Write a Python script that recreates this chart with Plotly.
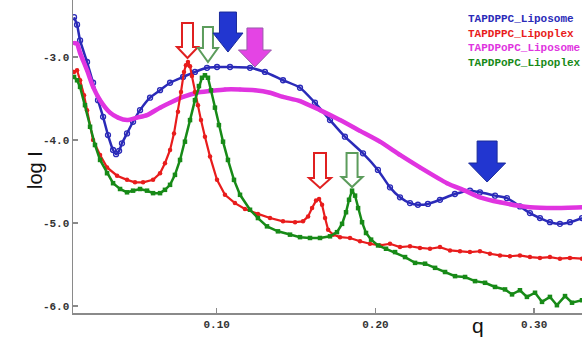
import plotly.graph_objects as go

# ---------------- data ----------------
q_dppc_liposome = [0.0101, 0.0120, 0.0139, 0.0183, 0.0221, 0.0252, 0.0284, 0.0315, 0.0347, 0.0366,
                   0.0385, 0.0403, 0.0435, 0.0473, 0.0517, 0.0580, 0.0643, 0.0706, 0.0788, 0.0863,
                   0.0939, 0.1002, 0.1084, 0.1210, 0.1304, 0.1418, 0.1525, 0.1619, 0.1714, 0.1808,
                   0.1922, 0.2016, 0.2092, 0.2155, 0.2218, 0.2268, 0.2331, 0.2407, 0.2501, 0.2596,
                   0.2659, 0.2754, 0.2829, 0.2911, 0.2974, 0.3037, 0.3100, 0.3163, 0.3226, 0.3302]
logI_dppc_liposome = [-2.52, -2.61, -2.80, -3.06, -3.31, -3.52, -3.72, -3.94, -4.12, -4.17,
                      -4.13, -4.04, -3.92, -3.78, -3.64, -3.49, -3.40, -3.31, -3.24, -3.18,
                      -3.13, -3.12, -3.12, -3.13, -3.18, -3.28, -3.37, -3.55, -3.76, -3.96,
                      -4.16, -4.36, -4.57, -4.69, -4.76, -4.78, -4.77, -4.72, -4.65, -4.61,
                      -4.63, -4.67, -4.70, -4.80, -4.88, -4.94, -4.99, -5.01, -4.99, -4.94]

q_dppc_lipoplex = [0.0101, 0.0120, 0.0139, 0.0164, 0.0183, 0.0221, 0.0265, 0.0309, 0.0372, 0.0435,
                   0.0485, 0.0536, 0.0599, 0.0643, 0.0674, 0.0706, 0.0731, 0.0756, 0.0775, 0.0794,
                   0.0806, 0.0819, 0.0832, 0.0844, 0.0863, 0.0882, 0.0901, 0.0926, 0.0958, 0.1002,
                   0.1052, 0.1115, 0.1178, 0.1260, 0.1336, 0.1418, 0.1494, 0.1544, 0.1576, 0.1601,
                   0.1626, 0.1645, 0.1664, 0.1683, 0.1702, 0.1733, 0.1777, 0.1840, 0.1903, 0.1966,
                   0.2029, 0.2092, 0.2155, 0.2218, 0.2281, 0.2344, 0.2407, 0.2470, 0.2533, 0.2596,
                   0.2659, 0.2722, 0.2785, 0.2848, 0.2911, 0.2974, 0.3037, 0.3100, 0.3163, 0.3226,
                   0.3302]
logI_dppc_lipoplex = [-3.18, -3.16, -3.28, -3.46, -3.64, -4.00, -4.18, -4.33, -4.43, -4.48,
                      -4.51, -4.51, -4.48, -4.40, -4.28, -4.12, -3.92, -3.66, -3.42, -3.18,
                      -3.10, -3.06, -3.11, -3.23, -3.42, -3.58, -3.76, -3.96, -4.20, -4.48,
                      -4.66, -4.76, -4.83, -4.89, -4.94, -4.98, -4.99, -4.98, -4.92, -4.82,
                      -4.73, -4.71, -4.78, -4.94, -5.08, -5.14, -5.17, -5.18, -5.22, -5.25,
                      -5.27, -5.25, -5.29, -5.28, -5.30, -5.31, -5.29, -5.33, -5.34, -5.35,
                      -5.34, -5.37, -5.39, -5.40, -5.39, -5.41, -5.42, -5.41, -5.43, -5.42,
                      -5.43]

q_dpopc_liposome = [0.0101, 0.0120, 0.0139, 0.0183, 0.0221, 0.0265, 0.0328, 0.0378, 0.0435, 0.0498,
                    0.0561, 0.0643, 0.0706, 0.0788, 0.0876, 0.0958, 0.1052, 0.1147, 0.1241, 0.1336,
                    0.1418, 0.1525, 0.1651, 0.1777, 0.1903, 0.2029, 0.2155, 0.2281, 0.2451, 0.2565,
                    0.2659, 0.2785, 0.2974, 0.3131, 0.3302]
logI_dpopc_liposome = [-2.83, -2.84, -2.95, -3.16, -3.36, -3.52, -3.67, -3.73, -3.76, -3.73,
                       -3.70, -3.61, -3.55, -3.48, -3.43, -3.41, -3.39, -3.39, -3.40, -3.43,
                       -3.48, -3.53, -3.64, -3.76, -3.89, -4.02, -4.18, -4.33, -4.52, -4.61,
                       -4.69, -4.75, -4.81, -4.82, -4.81]

q_dpopc_lipoplex = [0.0101, 0.0120, 0.0139, 0.0170, 0.0202, 0.0233, 0.0265, 0.0309, 0.0347, 0.0391,
                    0.0435, 0.0473, 0.0517, 0.0561, 0.0599, 0.0643, 0.0674, 0.0706, 0.0737, 0.0769,
                    0.0800, 0.0832, 0.0863, 0.0888, 0.0907, 0.0926, 0.0945, 0.0964, 0.0989, 0.1014,
                    0.1040, 0.1071, 0.1109, 0.1147, 0.1210, 0.1260, 0.1317, 0.1386, 0.1462, 0.1525,
                    0.1588, 0.1651, 0.1714, 0.1758, 0.1790, 0.1815, 0.1834, 0.1853, 0.1872, 0.1891,
                    0.1916, 0.1941, 0.1973, 0.2017, 0.2067, 0.2124, 0.2187, 0.2250, 0.2313, 0.2376,
                    0.2439, 0.2502, 0.2565, 0.2628, 0.2691, 0.2754, 0.2817, 0.2861, 0.2911, 0.2955,
                    0.3006, 0.3050, 0.3100, 0.3144, 0.3195, 0.3239, 0.3302]
logI_dpopc_lipoplex = [-3.24, -3.28, -3.36, -3.58, -3.84, -4.06, -4.24, -4.40, -4.52, -4.59,
                       -4.63, -4.61, -4.59, -4.61, -4.64, -4.64, -4.60, -4.54, -4.42, -4.24,
                       -4.02, -3.76, -3.52, -3.35, -3.25, -3.22, -3.25, -3.40, -3.61, -3.82,
                       -4.02, -4.24, -4.48, -4.66, -4.84, -4.94, -5.04, -5.10, -5.14, -5.17,
                       -5.18, -5.18, -5.16, -5.11, -5.01, -4.87, -4.72, -4.61, -4.67, -4.82,
                       -4.99, -5.12, -5.20, -5.27, -5.31, -5.35, -5.41, -5.48, -5.49, -5.54,
                       -5.59, -5.64, -5.65, -5.70, -5.72, -5.77, -5.80, -5.86, -5.81, -5.89,
                       -5.84, -5.95, -5.89, -5.99, -5.88, -5.96, -5.93]

series_names = ["TAPDPPC_Liposome", "TAPDPPC_Lipoplex", "TAPDPoPC_Liposome", "TAPDPoPC_Lipoplex"]

x_tick_vals = [0.10, 0.20, 0.30]
x_tick_text = ["0.10", "0.20", "0.30"]
y_tick_vals = [-3.0, -4.0, -5.0, -6.0]
y_tick_text = ["-3.0", "-4.0", "-5.0", "-6.0"]

# peak-marker arrows: target q, tip logI
arrow_q = [0.0816, 0.0945, 0.1071, 0.1241, 0.1651, 0.1853, 0.2704]
arrow_tip = [-3.012, -3.06, -2.94, -3.12, -4.578, -4.566, -4.506]

# ---------------- layout constants ----------------
W, H = 582, 349
ML, MR, MT, MB = 73, 0, 0, 36
X_RANGE = [0.00945, 0.3302]
Y_RANGE = [-6.084, -2.313]
PW, PH = W - ML - MR, H - MT - MB
px_per_q = PW / (X_RANGE[1] - X_RANGE[0])
px_per_y = PH / (Y_RANGE[1] - Y_RANGE[0])

BLUE = "#2a2ab8"
RED = "#e81c1c"
MAGENTA = "#e034e0"
GREEN = "#178a17"

fig = go.Figure()

fig.add_trace(go.Scatter(
    x=q_dppc_liposome, y=logI_dppc_liposome, mode="lines+markers", name=series_names[0],
    line=dict(color=BLUE, width=2.5, shape="spline", smoothing=0.6),
    marker=dict(symbol="circle-open", size=5, color=BLUE, line=dict(width=1.3, color=BLUE))))
fig.add_trace(go.Scatter(
    x=q_dpopc_liposome, y=logI_dpopc_liposome, mode="lines+markers", name=series_names[2],
    line=dict(color=MAGENTA, width=4.5, shape="spline", smoothing=0.6),
    marker=dict(symbol="circle", size=4, color=MAGENTA)))
fig.add_trace(go.Scatter(
    x=q_dppc_lipoplex, y=logI_dppc_lipoplex, mode="lines+markers", name=series_names[1],
    line=dict(color=RED, width=2.2),
    marker=dict(symbol="circle", size=4.5, color=RED)))
fig.add_trace(go.Scatter(
    x=q_dpopc_lipoplex, y=logI_dpopc_lipoplex, mode="lines+markers", name=series_names[3],
    line=dict(color=GREEN, width=2.5),
    marker=dict(symbol="square", size=4.5, color=GREEN)))

# arrows (sizes in pixels, converted to data units)
arrow_style = [
    # length, head length, shaft half-width, head half-width, fill, line colour, line width
    (35, 11, 5.5, 10.5, "white", "#e02020", 2),
    (35, 14, 5.0, 10.0, "white", "#5c9c5c", 2),
    (40, 19, 8.5, 15.0, "#2236d0", "#1a2a9a", 1),
    (39, 17, 8.0, 16.5, "#e444e4", "#9a5aaa", 1),
    (35, 10, 6.0, 11.0, "white", "#e02020", 2),
    (34, 10, 5.5, 10.5, "white", "#5c9c5c", 2),
    (41, 19, 10.0, 18.5, "#2236d0", "#1a2a9a", 1),
]
for qc, yt, (L, hl, sw, hw, fill, lc, lw) in zip(arrow_q, arrow_tip, arrow_style):
    dq = lambda p: p / px_per_q
    dy = lambda p: p / px_per_y
    pts = [
        (qc - dq(sw), yt + dy(L)),
        (qc + dq(sw), yt + dy(L)),
        (qc + dq(sw), yt + dy(hl)),
        (qc + dq(hw), yt + dy(hl)),
        (qc, yt),
        (qc - dq(hw), yt + dy(hl)),
        (qc - dq(sw), yt + dy(hl)),
    ]
    path = "M " + " L ".join(f"{a:.5f},{b:.5f}" for a, b in pts) + " Z"
    fig.add_shape(type="path", path=path, xref="x", yref="y",
                  fillcolor=fill, line=dict(color=lc, width=lw), layer="above")

tick_font = dict(family="Liberation Mono, DejaVu Sans Mono, monospace", size=11,
                 color="#333333", weight="bold")
axis_common = dict(showline=True, linecolor="#8a8a8a", linewidth=1.5, ticks="inside",
                   ticklen=5, tickwidth=1.2, tickcolor="#8a8a8a", showgrid=False,
                   zeroline=False, tickfont=tick_font)

fig.update_layout(
    width=W, height=H, margin=dict(l=ML, r=MR, t=MT, b=MB),
    paper_bgcolor="white", plot_bgcolor="white", showlegend=False,
    xaxis=dict(range=X_RANGE, tickvals=x_tick_vals, ticktext=x_tick_text, **axis_common),
    yaxis=dict(range=Y_RANGE, tickvals=y_tick_vals, ticktext=y_tick_text, **axis_common),
)

# legend as coloured text
legend_colors = [BLUE, RED, MAGENTA, GREEN]
legend_y = [0.939, 0.891, 0.847, 0.799]
for name, col, ly in zip(series_names, legend_colors, legend_y):
    fig.add_annotation(x=0.772, y=ly, xref="paper", yref="paper", text=name, showarrow=False,
                       xanchor="left", yanchor="middle",
                       font=dict(family="Liberation Mono, DejaVu Sans Mono, monospace",
                                 size=11, color=col, weight="bold"))

# axis titles
fig.add_annotation(x=-0.100, y=0.457, xref="paper", yref="paper", text="log I", showarrow=False,
                   textangle=-90, font=dict(family="Liberation Sans, Arial, sans-serif",
                                            size=20, color="#111111"))
fig.add_annotation(x=0.811, y=-0.083, xref="paper", yref="paper", text="q", showarrow=False,
                   font=dict(family="Liberation Sans, Arial, sans-serif", size=21, color="#111111"))

fig.write_html("out.html", config={"displayModeBar": False, "staticPlot": True},
               post_script="document.body.style.margin='0';")
